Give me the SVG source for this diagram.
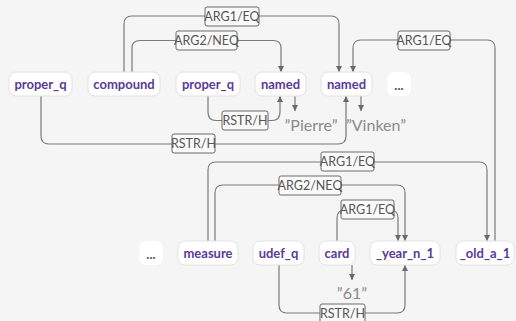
<svg xmlns="http://www.w3.org/2000/svg" width="516" height="321" viewBox="0 0 516 321">
<defs>
<style>
.node rect{fill:#fff;stroke:#e2e2e2;stroke-width:1}
.node text{font-family:Lato,"Noto Sans",sans-serif;font-weight:bold;font-size:13px;fill:#5b3a98;text-anchor:middle;dominant-baseline:central}
.dots rect{fill:#fff;stroke:none}
.dots text{font-family:Lato,"Noto Sans",sans-serif;font-weight:bold;font-size:13px;fill:#555;text-anchor:middle;dominant-baseline:central}
.edge{fill:none;stroke:#7a7a7a;stroke-width:1.2}
.lbl rect{fill:#fafafa;stroke:#6a6a6a;stroke-width:1}
.lbl text{font-family:Lato,"Noto Sans",sans-serif;font-size:12.5px;fill:#555;text-anchor:middle;dominant-baseline:central}
.val{font-family:Lato,"Noto Sans",sans-serif;font-size:16px;fill:#8a8a8a;text-anchor:middle}
</style>
<marker id="ah" viewBox="0 0 10 10" refX="10" refY="5" markerWidth="6" markerHeight="6" markerUnits="userSpaceOnUse" orient="auto">
<path d="M0,0 L10,5 L0,10 z" fill="#6a6a6a"/>
</marker>
</defs>
<rect width="516" height="321" fill="#f5f5f5"/>
<g id="connectors">
<path class="edge" marker-end="url(#ah)" d="M124,72 V24 Q124,16 132,16 H331 Q339,16 339,24 V72"/>
<path class="edge" marker-end="url(#ah)" d="M132,72 V48 Q132,40.5 140,40.5 H273 Q281,40.5 281,48 V72"/>
<path class="edge" marker-end="url(#ah)" d="M495,241 V48 Q495,40 487,40 H361 Q353,40 353,48 V72"/>
<path class="edge" marker-end="url(#ah)" d="M208,96 V112 Q208,120.5 216,120.5 H272 Q280,120.5 280,112 V96"/>
<path class="edge" marker-end="url(#ah)" d="M41,96 V136 Q41,144 49,144 H338 Q346,144 346,136 V96"/>
<path class="edge" marker-end="url(#ah)" d="M295,96 V111"/>
<path class="edge" marker-end="url(#ah)" d="M361,96 V111"/>
<path class="edge" marker-end="url(#ah)" d="M208,241 V170 Q208,162 216,162 H479 Q487,162 487,170 V241"/>
<path class="edge" marker-end="url(#ah)" d="M215,241 V193 Q215,185 223,185 H397 Q405,185 405,193 V241"/>
<path class="edge" marker-end="url(#ah)" d="M337,241 V218 Q337,210 345,210 H390 Q398,210 398,218 V241"/>
<path class="edge" marker-end="url(#ah)" d="M352,265 V280"/>
<path class="edge" marker-end="url(#ah)" d="M279,265 V305 Q279,313 287,313 H397 Q405,313 405,305 V265"/>
<g class="lbl"><rect x="205" y="7" width="54" height="19" rx="2"/><text x="232" y="16.5">ARG1/EQ</text></g>
<g class="lbl"><rect x="176" y="31" width="61" height="19" rx="2"/><text x="206.5" y="40.5">ARG2/NEQ</text></g>
<g class="lbl"><rect x="398" y="31" width="52" height="19" rx="2"/><text x="424" y="40.5">ARG1/EQ</text></g>
<g class="lbl"><rect x="222" y="111" width="46" height="19" rx="2"/><text x="245" y="120.5">RSTR/H</text></g>
<g class="lbl"><rect x="172" y="134" width="43" height="19" rx="2"/><text x="193.5" y="143.5">RSTR/H</text></g>
<g class="lbl"><rect x="321" y="152" width="53" height="19" rx="2"/><text x="347.5" y="161.5">ARG1/EQ</text></g>
<g class="lbl"><rect x="279" y="176" width="62" height="19" rx="2"/><text x="310" y="185.5">ARG2/NEQ</text></g>
<g class="lbl"><rect x="341" y="200" width="53" height="19" rx="2"/><text x="367.5" y="209.5">ARG1/EQ</text></g>
<g class="lbl"><rect x="320" y="304" width="45" height="19" rx="2"/><text x="342.5" y="313.5">RSTR/H</text></g>
<text class="val" x="311" y="131">”Pierre”</text>
<text class="val" x="376" y="131">”Vinken”</text>
<text class="val" x="352" y="299">”61”</text>
</g>
<g id="n_proper_q1" class="node"><rect x="9" y="72" width="63" height="24" rx="7"/><text x="40.5" y="84">proper_q</text></g>
<g id="n_compound" class="node"><rect x="88" y="72" width="72" height="24" rx="7"/><text x="124" y="84">compound</text></g>
<g id="n_proper_q2" class="node"><rect x="176" y="72" width="64" height="24" rx="7"/><text x="208" y="84">proper_q</text></g>
<g id="n_named1" class="node"><rect x="255" y="72" width="51" height="24" rx="7"/><text x="280.5" y="84">named</text></g>
<g id="n_named2" class="node"><rect x="321" y="72" width="51" height="24" rx="7"/><text x="346.5" y="84">named</text></g>
<g id="n_dots1" class="dots"><rect x="387" y="72" width="24" height="24" rx="7"/><text x="399" y="85">...</text></g>
<g id="n_dots2" class="dots"><rect x="139" y="241" width="24" height="24" rx="7"/><text x="151" y="254">...</text></g>
<g id="n_measure" class="node"><rect x="178" y="241" width="60" height="24" rx="7"/><text x="208" y="253">measure</text></g>
<g id="n_udef_q" class="node"><rect x="253" y="241" width="51" height="24" rx="7"/><text x="278.5" y="253">udef_q</text></g>
<g id="n_card" class="node"><rect x="319" y="241" width="36" height="24" rx="7"/><text x="337" y="253">card</text></g>
<g id="n_year" class="node"><rect x="370" y="241" width="70" height="24" rx="7"/><text x="405" y="253">_year_n_1</text></g>
<g id="n_old" class="node"><rect x="456" y="241" width="58" height="24" rx="7"/><text x="485" y="253">_old_a_1</text></g>
</svg>
